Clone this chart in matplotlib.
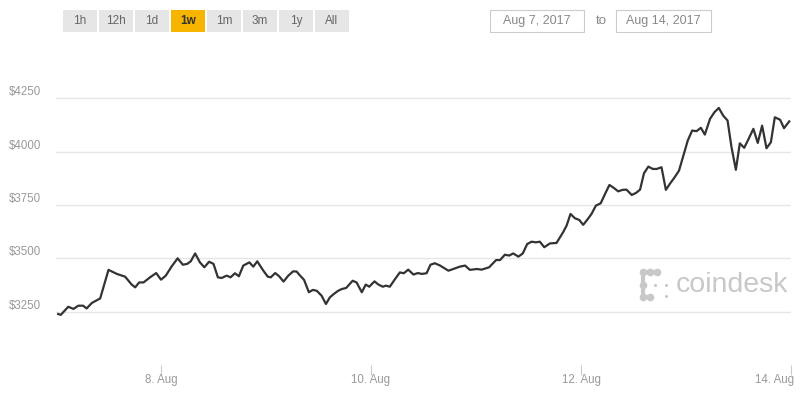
import numpy as np
import matplotlib
matplotlib.use('Agg')
import matplotlib.pyplot as plt
from matplotlib.patches import Rectangle
from matplotlib.lines import Line2D
from matplotlib.transforms import blended_transform_factory, ScaledTranslation

plt.rcParams['font.family'] = ['Liberation Sans', 'DejaVu Sans']

# hours since Aug 7 2017 00:00, and BTC price in USD
hours = [0.5, 1.1, 2.8, 4.0, 5.1, 6.2, 7.0, 8.2, 10.1, 12.0, 13.9, 15.8, 17.3, 18.1,
         19.0, 20.0, 21.5, 22.9, 24.0, 25.1, 26.4, 27.8, 29.0, 30.0, 30.8, 31.8, 32.9,
         33.9, 35.0, 36.0, 37.0, 37.9, 39.0, 39.9, 40.9, 41.8, 42.8, 44.2, 45.1, 46.0,
         47.4, 48.4, 49.1, 50.1, 51.0, 52.0, 53.1, 54.2, 55.0, 55.8, 56.7, 57.8, 58.7,
         59.6, 60.7, 61.7, 62.6, 63.5, 64.5, 65.3, 66.3, 66.8, 67.8, 68.7, 69.9, 70.8,
         71.6, 72.8, 73.7, 74.7, 75.4, 76.3, 77.5, 78.6, 79.5, 80.5, 81.7, 82.7, 83.6,
         84.7, 85.6, 86.6, 87.8, 89.7, 90.8, 92.3, 93.5, 94.6, 96.2, 97.3, 99.0, 100.6,
         101.5, 102.6, 103.6, 104.5, 105.7, 106.7, 107.7, 108.7, 109.7, 110.6, 111.6,
         112.9, 114.4, 115.9, 116.7, 117.6, 118.6, 119.6, 120.5, 121.4, 122.4, 123.4,
         124.5, 125.5, 126.5, 127.5, 128.5, 129.5, 130.4, 131.6, 132.6, 133.5, 134.4,
         135.4, 136.4, 137.3, 138.4, 139.4, 140.3, 141.3, 142.4, 143.4, 144.4, 145.4,
         146.4, 147.4, 148.3, 149.5, 150.5, 151.5, 152.5, 153.5, 154.4, 155.4, 156.3,
         157.3, 158.2, 159.4, 160.4, 161.4, 162.4, 163.4, 164.3, 165.5, 166.4, 167.6]
price = [3239, 3235, 3273, 3263, 3278, 3278, 3265, 3291, 3312, 3446, 3427, 3414, 3377, 3364,
         3387, 3387, 3411, 3431, 3400, 3419, 3461, 3500, 3470, 3474, 3486, 3523, 3481,
         3458, 3484, 3474, 3411, 3408, 3419, 3411, 3430, 3416, 3466, 3481, 3461, 3486,
         3442, 3414, 3411, 3431, 3416, 3391, 3419, 3439, 3438, 3419, 3399, 3341, 3352,
         3348, 3325, 3286, 3317, 3333, 3348, 3356, 3361, 3372, 3395, 3387, 3341, 3377,
         3367, 3392, 3377, 3367, 3372, 3367, 3403, 3434, 3430, 3447, 3424, 3431, 3427,
         3430, 3470, 3477, 3466, 3442, 3450, 3461, 3466, 3446, 3450, 3447, 3458, 3492,
         3492, 3517, 3513, 3523, 3508, 3523, 3567, 3578, 3575, 3578, 3552,
         3570, 3572, 3622, 3653, 3708, 3688, 3680, 3657, 3680, 3708, 3747,
         3758, 3802, 3844, 3830, 3814, 3821, 3822, 3797, 3807, 3822, 3899,
         3930, 3919, 3919, 3927, 3821, 3849, 3877, 3911, 3982, 4052, 4099,
         4096, 4112, 4080, 4154, 4185, 4205, 4169, 4146, 4021, 3915, 4039,
         4018, 4055, 4107, 4041, 4122, 4016, 4044, 4161, 4150, 4110, 4142]

y_ticks = [3250, 3500, 3750, 4000, 4250]
y_labels = ['$3250', '$3500', '$3750', '$4000', '$4250']
x_ticks = [24, 72, 120, 168]
x_labels = ['8. Aug', '10. Aug', '12. Aug', '14. Aug']
buttons = ['1h', '12h', '1d', '1w', '1m', '3m', '1y', 'All']
active = '1w'
date_from = 'Aug 7, 2017'
date_to = 'Aug 14, 2017'

W, H = 800, 400


def fx(x):
    return x / W


def fy(y):
    return 1 - y / H


fig = plt.figure(figsize=(8, 4), dpi=100)
ax = fig.add_axes([fx(56), fy(365), fx(791) - fx(56), fy(45) - fy(365)])

# gridlines
for v in y_ticks:
    ax.axhline(v, color='#e6e6e6', lw=1, zorder=1)

ax.plot(hours, price, color='#333333', lw=1.6, zorder=3, solid_joinstyle='round')

ax.set_xlim(0, 168)
ax.set_ylim(3000, 4500)
for s in ax.spines.values():
    s.set_visible(False)
ax.set_yticks([])
ax.set_xticks(x_ticks)
ax.set_xticklabels([])
ax.tick_params(axis='x', length=7, width=0.8, color='#cccccc')

# y labels sit a bit above the gridlines, left aligned at the edge
ytrans = blended_transform_factory(fig.transFigure, ax.transData)
up = ScaledTranslation(0, 6 / 100, fig.dpi_scale_trans)
for v, lab in zip(y_ticks, y_labels):
    fig.text(fx(9), v, lab, transform=ytrans + up, ha='left', va='center',
             fontsize=8.3, color='#999999')

# x labels
xtrans = blended_transform_factory(ax.transData, fig.transFigure)
for t, lab in zip(x_ticks, x_labels):
    if t == x_ticks[-1]:
        fig.text(t, fy(380), lab, transform=xtrans + ScaledTranslation(3 / 100, 0, fig.dpi_scale_trans),
                 ha='right', va='center', fontsize=8.3, color='#999999')
    else:
        fig.text(t, fy(380), lab, transform=xtrans, ha='center', va='center',
                 fontsize=8.3, color='#999999')

# range buttons
bx = 63
for b in buttons:
    on = b == active
    fig.add_artist(Rectangle((fx(bx), fy(32)), fx(34), fy(10) - fy(32),
                             transform=fig.transFigure,
                             facecolor='#f7b500' if on else '#e6e6e6', edgecolor='none'))
    fig.text(fx(bx + 17), fy(21), b, ha='center', va='center', fontsize=8.5,
             color='#333333' if on else '#666666', fontweight='bold' if on else 'normal')
    bx += 36

# date boxes
for x0, x1, txt in [(490, 584, date_from), (616, 711, date_to)]:
    fig.add_artist(Rectangle((fx(x0), fy(32)), fx(x1 - x0), fy(10) - fy(32),
                             transform=fig.transFigure, facecolor='white',
                             edgecolor='#cccccc', lw=0.8))
    fig.text(fx((x0 + x1) / 2), fy(21), txt, ha='center', va='center', fontsize=9,
             color='#888888')
fig.text(fx(601), fy(21), 'to', ha='center', va='center', fontsize=9.5, color='#888888')

# coindesk watermark
logo = '#c8c8c8'
for (x0, y0), (x1, y1) in [((643, 272), (657, 272)), ((643, 272), (643, 297)),
                           ((643, 297), (650, 297))]:
    fig.add_artist(Line2D([fx(x0), fx(x1)], [fy(y0), fy(y1)], transform=fig.transFigure,
                          color=logo, lw=3.0, solid_capstyle='round'))
big = [(643, 272), (650, 272), (657, 272), (643, 285), (643, 297), (650, 297)]
small = [(655, 285), (666, 285), (666, 296)]
fig.add_artist(Line2D([fx(p[0]) for p in big], [fy(p[1]) for p in big],
                      transform=fig.transFigure, ls='none', marker='o', ms=5.5,
                      mfc=logo, mec='none'))
fig.add_artist(Line2D([fx(p[0]) for p in small], [fy(p[1]) for p in small],
                      transform=fig.transFigure, ls='none', marker='o', ms=2.2,
                      mfc=logo, mec='none'))
fig.text(fx(676), fy(285), 'coindesk', ha='left', va='center', fontsize=20.5, color=logo)

fig.savefig('out.png', dpi=100)
